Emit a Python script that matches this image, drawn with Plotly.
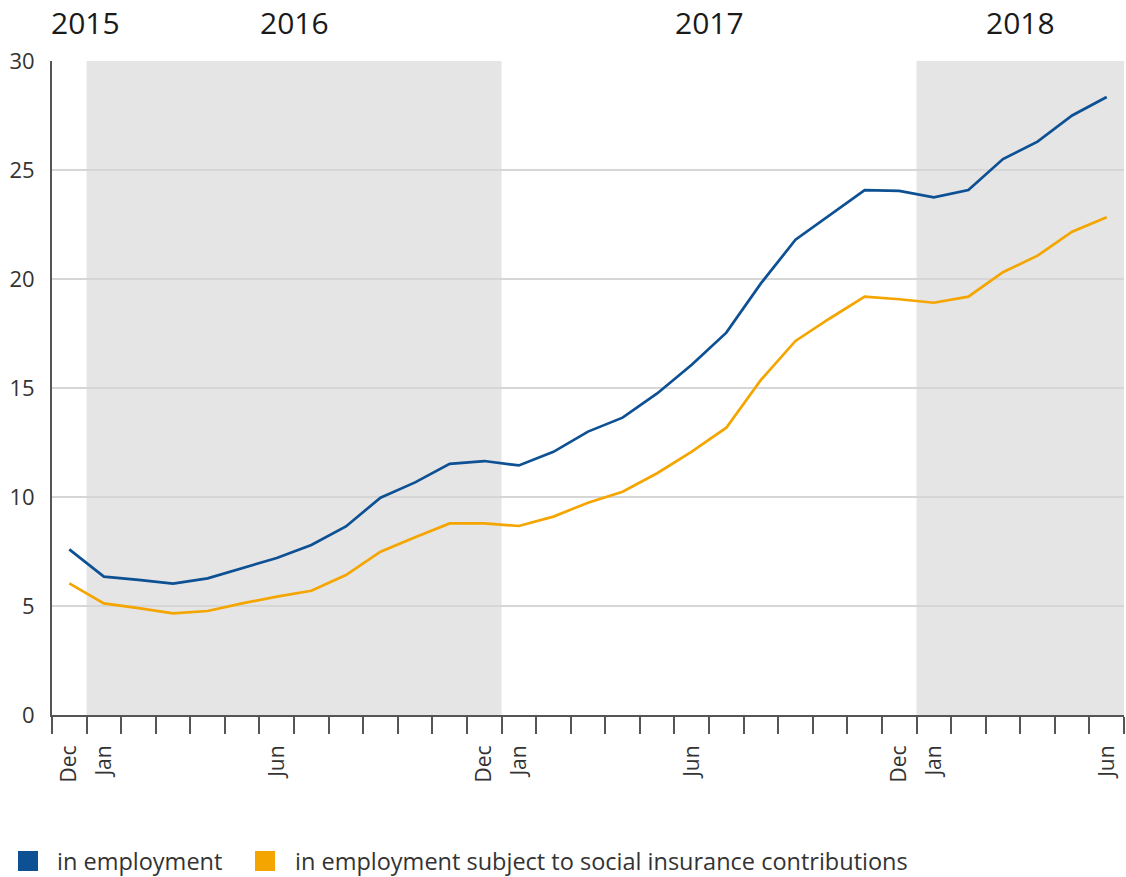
import plotly.graph_objects as go

months = ["2015-12",
          "2016-01", "2016-02", "2016-03", "2016-04", "2016-05", "2016-06",
          "2016-07", "2016-08", "2016-09", "2016-10", "2016-11", "2016-12",
          "2017-01", "2017-02", "2017-03", "2017-04", "2017-05", "2017-06",
          "2017-07", "2017-08", "2017-09", "2017-10", "2017-11", "2017-12",
          "2018-01", "2018-02", "2018-03", "2018-04", "2018-05", "2018-06"]

tick_labels = ["Dec",
               "Jan", "", "", "", "", "Jun", "", "", "", "", "", "Dec",
               "Jan", "", "", "", "", "Jun", "", "", "", "", "", "Dec",
               "Jan", "", "", "", "", "Jun"]

in_employment = [7.6,
                 6.35, 6.2, 6.03, 6.27, 6.73, 7.2, 7.8, 8.65, 9.97, 10.67, 11.52, 11.65,
                 11.45, 12.07, 13.0, 13.64, 14.75, 16.07, 17.54, 19.8, 21.8, 22.94, 24.08, 24.04,
                 23.75, 24.08, 25.5, 26.3, 27.5, 28.35]

subject_to_si = [6.04,
                 5.12, 4.9, 4.66, 4.77, 5.12, 5.43, 5.7, 6.42, 7.49, 8.15, 8.79, 8.79,
                 8.67, 9.1, 9.74, 10.24, 11.09, 12.08, 13.18, 15.37, 17.16, 18.2, 19.19, 19.07,
                 18.91, 19.19, 20.31, 21.07, 22.17, 22.83]

years = ["2015", "2016", "2017", "2018"]
shaded_years = ["2016", "2018"]

series_names = ["in employment", "in employment subject to social insurance contributions"]
colors = ["#0d5093", "#f5a500"]

# layout constants (pixels)
W, H = 1126, 877
ML, MR, MT, MB = 52, 2, 61, 162
PW, PH = W - ML - MR, H - MT - MB


def px_x(p):
    return (p - ML) / PW


def px_y(p):
    return (H - MB - p) / PH


fig = go.Figure()

for name, vals, col in zip(series_names, [in_employment, subject_to_si], colors):
    fig.add_trace(go.Scatter(x=months, y=vals, mode="lines", name=name,
                             line=dict(color=col, width=2.7), showlegend=False))

n = len(months)
# shaded year bands
for yr in shaded_years:
    idx = [i for i, m in enumerate(months) if m.startswith(yr)]
    fig.add_shape(type="rect", xref="x", yref="paper",
                  x0=idx[0] - 0.5, x1=idx[-1] + 0.5, y0=0, y1=1,
                  fillcolor="#e5e5e5", line=dict(width=0), layer="below")

# year labels (paper coordinates derived from category index)
for yr in years:
    idx = [i for i, m in enumerate(months) if m.startswith(yr)]
    if yr == "2015":
        fig.add_annotation(x=-0.003, y=1.0, xref="paper", yref="paper",
                           text=yr, showarrow=False, xanchor="left", yanchor="bottom",
                           yshift=16, font=dict(size=30, color="#1a1a1a"))
    else:
        cx = ((idx[0] + idx[-1]) / 2 + 0.5) / n
        fig.add_annotation(x=cx, y=1.0, xref="paper", yref="paper",
                           text=yr, showarrow=False, xanchor="center", yanchor="bottom",
                           yshift=16, font=dict(size=30, color="#1a1a1a"))

# legend (drawn as squares + text below the plot)
legend_square_px = [18, 255]
legend_text_px = [55, 293]
for name, col, sq, tx in zip(series_names, colors, legend_square_px, legend_text_px):
    fig.add_shape(type="rect", xref="paper", yref="paper",
                  x0=px_x(sq), x1=px_x(sq + 20), y0=px_y(871), y1=px_y(851),
                  fillcolor=col, line=dict(width=0))
    fig.add_annotation(x=px_x(tx), y=px_y(861), xref="paper", yref="paper",
                       text=name, showarrow=False, xanchor="left", yanchor="middle",
                       font=dict(size=23.5, color="#333333"))

fig.update_layout(
    width=W, height=H,
    margin=dict(l=ML, r=MR, t=MT, b=MB, autoexpand=False),
    paper_bgcolor="white", plot_bgcolor="white",
    font=dict(family="Open Sans, Noto Sans, sans-serif", color="#333333"),
    showlegend=False,
)

fig.update_xaxes(type="category", categoryorder="array", categoryarray=months,
                 tickmode="array", tickvals=months, ticktext=tick_labels,
                 tickson="boundaries", ticks="outside", ticklen=17, tickwidth=2,
                 tickcolor="#555555", tickangle=-90, tickfont=dict(size=21, color="#333333"),
                 ticklabelstandoff=20, automargin=False,
                 showgrid=False, showline=True, linecolor="#555555", linewidth=2,
                 range=[-0.5, n - 0.5], zeroline=False)

fig.update_yaxes(range=[0, 30], tickvals=[0, 5, 10, 15, 20, 25, 30],
                 showgrid=True, gridcolor="#d6d6d6", gridwidth=2,
                 showline=True, linecolor="#555555", linewidth=2, automargin=False,
                 ticks="", ticklabelstandoff=11, tickfont=dict(size=22, color="#333333"),
                 zeroline=False)

fig.write_html("out.html", config={"displayModeBar": False},
               post_script="document.body.style.margin='0px';document.body.style.overflow='hidden';")
